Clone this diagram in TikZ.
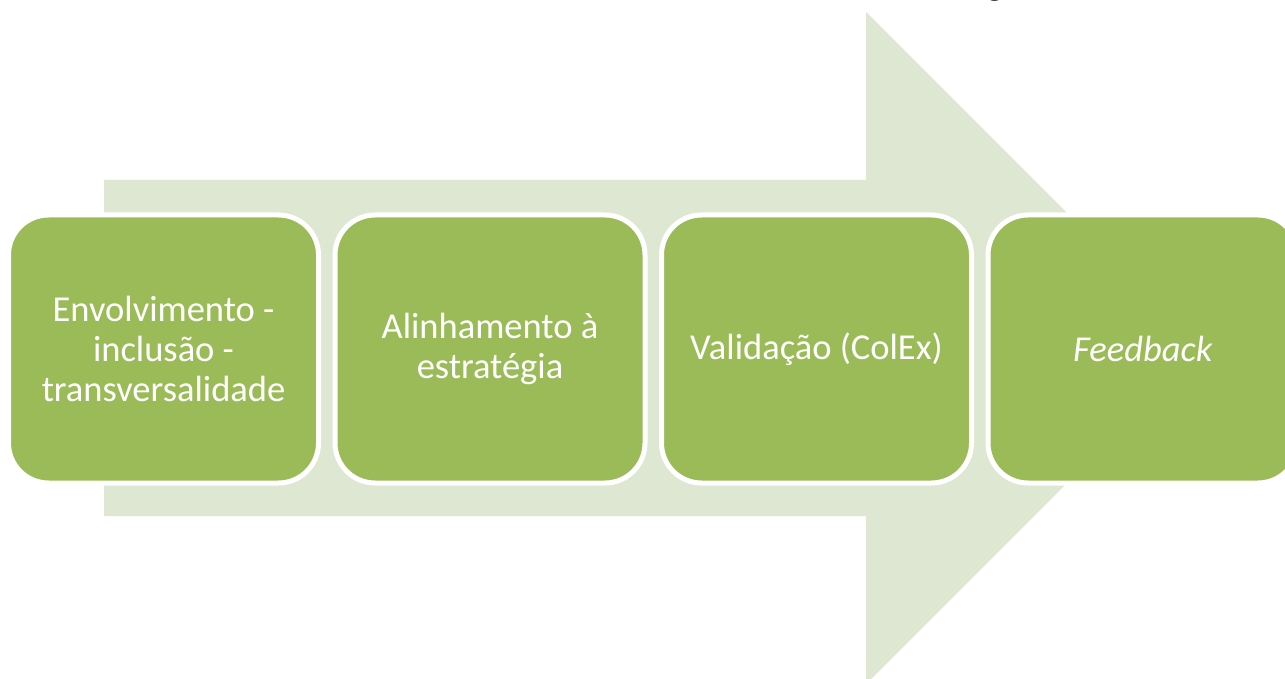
\documentclass[tikz,border=0pt]{standalone}
\usepackage{fontspec}
\setmainfont{Carlito}
\usetikzlibrary{positioning}
\definecolor{stagegreen}{RGB}{155,187,89}
\definecolor{arrowgreen}{RGB}{222,231,210}

\begin{document}
\begin{tikzpicture}[x=1pt,y=-1pt,
  stage/.style={rectangle, rounded corners=40pt, fill=stagegreen, draw=white,
    line width=5pt, minimum width=310pt, minimum height=268pt, inner sep=0pt,
    text=white, align=center, font=\fontsize{36.5}{40}\selectfont}]

% Frame of the picture (cuts off arrow tip and title)
\clip (0,0) rectangle (1285,679);

% Background arrow
\fill[arrowgreen] (104,180) -- (866,180) -- (866,12) -- (1202,348)
  -- (866,684) -- (866,516) -- (104,516) -- cycle;

% Title, only its descender is left
\node[font=\bfseries\fontsize{34}{40}\selectfont, anchor=base] (title) at (995,-4) {g};

% Stages
\node[stage] (involve) at (163.5,349) {Envolvimento -\\inclusão -\\transversalidade};
\node[stage, right=11.5pt of involve] (align) {Alinhamento à\\estratégia};
\node[stage, right=11.5pt of align] (validate) {Validação (ColEx)};
\node[stage, right=11.5pt of validate] (feedback) {\textit{Feedback}};

\end{tikzpicture}
\end{document}
